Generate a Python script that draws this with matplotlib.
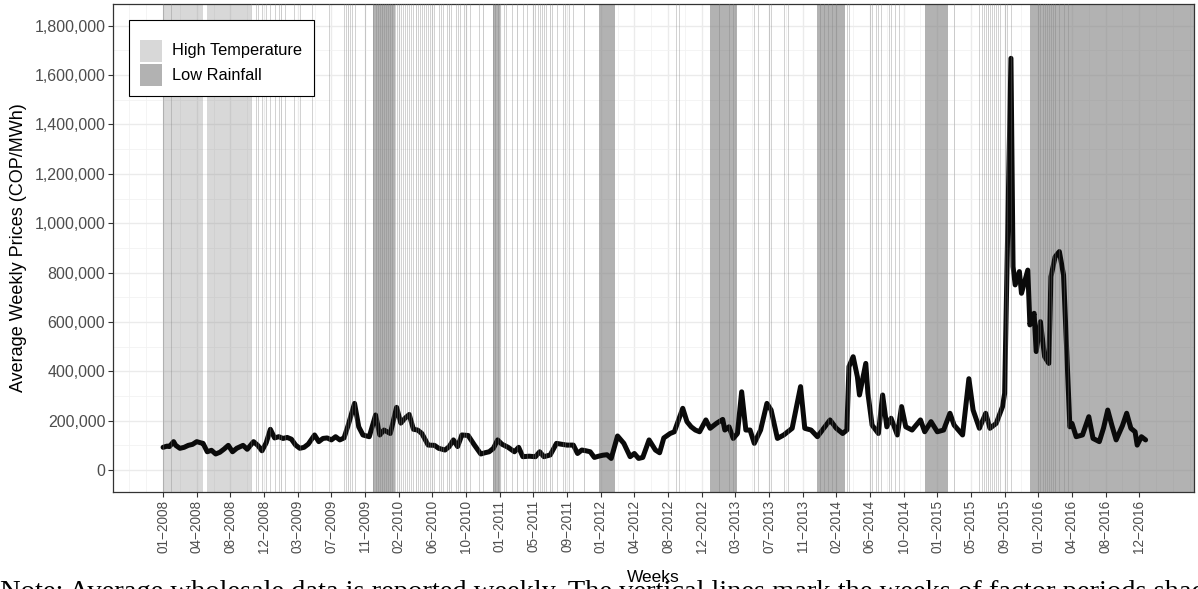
import matplotlib
matplotlib.use("Agg")
import matplotlib.pyplot as plt
from matplotlib.patches import Rectangle
from matplotlib.ticker import FixedLocator, MultipleLocator, FuncFormatter

plt.rcParams['font.family'] = ['Liberation Sans', 'DejaVu Sans']

# ---------------- data (week index from first week of Jan 2008) ----------------
weeks = [0, 2, 3, 5, 6, 8, 10, 12, 14, 16,
         18, 19, 21, 23, 25, 27, 29, 31, 33, 35,
         38, 40, 43, 45, 47, 49, 51, 53, 55, 57,
         59, 61, 63, 65, 67, 69, 72, 74, 76, 78,
         80, 82, 84, 86, 88, 91, 93, 95, 98, 101,
         103, 105, 108, 111, 113, 115, 117, 119, 121, 123,
         126, 129, 131, 134, 136, 138, 140, 142, 145, 148,
         151, 153, 155, 157, 159, 161, 164, 167, 169, 171,
         174, 177, 179, 181, 184, 187, 189, 192, 195, 197,
         199, 201, 203, 205, 207, 209, 211, 213, 216, 219,
         222, 224, 226, 228, 231, 234, 236, 238, 241, 243,
         245, 247, 249, 251, 253, 255, 258, 260, 263, 266,
         267, 269, 271, 273, 275, 277, 279, 281, 284, 287,
         289, 292, 295, 299, 303, 305, 308, 311, 314, 317,
         320, 323, 325, 326, 328, 330, 331, 334, 335, 337,
         340, 342, 344, 346, 349, 351, 353, 356, 360, 362,
         365, 368, 371, 374, 376, 380, 383, 385, 388, 391,
         393, 396, 399, 400, 403, 404, 405, 407, 408, 411,
         412, 414, 415, 417, 419, 421, 422, 424, 426, 428,
         431, 432, 434, 437, 440, 442, 445, 447, 449, 451,
         453, 456, 458, 460, 462, 463, 465, 467]

prices_k = [92, 97, 95, 115, 100, 88, 92, 100, 104, 115,
            110, 108, 74, 80, 65, 72, 85, 100, 74, 88,
            100, 84, 115, 100, 78, 110, 165, 130, 135, 128,
            132, 125, 101, 88, 92, 105, 142, 115, 128, 130,
            122, 135, 122, 130, 182, 270, 175, 142, 135, 223,
            142, 162, 148, 254, 190, 210, 225, 165, 162, 148,
            101, 100, 88, 81, 95, 122, 95, 142, 140, 101,
            65, 70, 74, 88, 122, 105, 92, 74, 92, 54,
            56, 54, 74, 54, 61, 108, 105, 101, 101, 67,
            81, 78, 74, 51, 56, 60, 62, 47, 138, 108,
            54, 67, 47, 51, 122, 81, 70, 130, 148, 155,
            203, 250, 196, 175, 162, 155, 203, 169, 189, 205,
            162, 175, 128, 148, 317, 162, 162, 108, 162, 270,
            243, 128, 142, 169, 338, 169, 162, 135, 169, 203,
            169, 148, 162, 419, 459, 378, 304, 432, 311, 182,
            148, 304, 175, 210, 142, 257, 175, 162, 203, 155,
            196, 155, 162, 230, 182, 142, 370, 243, 169, 230,
            169, 189, 257, 311, 1668, 824, 750, 804, 716, 810,
            588, 635, 480, 601, 459, 432, 783, 864, 885, 790,
            175, 189, 135, 142, 216, 128, 115, 170, 243, 180,
            122, 180, 230, 169, 155, 101, 135, 122]
prices = [v * 1000 for v in prices_k]

# shaded periods (start week, end week)
high_temp_start = [0, 21]
high_temp_end = [19, 42]
low_rain_start = [100, 157, 207, 260, 311, 362, 412]
low_rain_end = [110, 160, 215, 273, 324, 373, 495]

# weeks marked with thin vertical lines
event_weeks = [0, 4, 42, 44, 45, 47, 49, 51, 53, 55, 56, 58, 62, 65, 71, 79,
               86, 87, 88, 89, 90, 91, 96,
               100, 101, 102, 103, 104, 105, 106, 107, 108, 109, 110,
               111, 112, 113, 114, 115, 116, 117, 118, 119, 120, 121, 122, 123,
               124, 125, 126, 127, 128, 129, 131, 132, 133, 135, 136, 137, 139,
               140, 141, 143, 144, 146, 150, 152, 157, 158, 159, 160,
               162, 163, 166, 168, 171, 173, 176, 177, 178, 179, 180, 181, 182,
               184, 185, 187, 190, 191, 193, 195, 200,
               244, 245, 264, 269, 271, 281, 283, 288, 289, 295, 297,
               312, 314, 316, 318, 320, 325, 326, 336, 337, 339, 340, 341,
               345, 346, 348, 350, 376,
               388, 389, 390, 391, 392, 393, 394, 395, 396, 397, 398, 400, 401, 403,
               416, 417, 418, 419, 420, 421, 422, 423, 424, 426, 428, 430]

tick_weeks = list(range(0, 465, 16))
tick_labels = ["01−2008", "04−2008", "08−2008", "12−2008", "03−2009", "07−2009",
               "11−2009", "02−2010", "06−2010", "10−2010", "01−2011", "05−2011",
               "09−2011", "01−2012", "04−2012", "08−2012", "12−2012", "03−2013",
               "07−2013", "11−2013", "02−2014", "06−2014", "10−2014", "01−2015",
               "05−2015", "09−2015", "01−2016", "04−2016", "08−2016", "12−2016"]

legend_labels = ["High Temperature", "Low Rainfall"]

note = ("Note: Average wholesale data is reported weekly. The vertical lines mark "
        "the weeks of factor periods shaded")

# ---------------- figure ----------------
W, H = 1198, 589
fig = plt.figure(figsize=(W / 100, H / 100), dpi=100)
ax = fig.add_axes([113 / W, (H - 492) / H, 1081 / W, 488 / H])

ax.set_xlim(-23.8, 490)
ax.set_ylim(-89000, 1888000)

# grid
ax.set_axisbelow(True)
ax.xaxis.set_major_locator(FixedLocator(tick_weeks))
ax.xaxis.set_minor_locator(FixedLocator([w for w in range(-16, 490, 8) if w not in tick_weeks]))
ax.yaxis.set_major_locator(MultipleLocator(200000))
ax.yaxis.set_minor_locator(FixedLocator([v for v in range(100000, 1900001, 200000)]))
ax.grid(which='major', color='#EBEBEB', lw=1.0)
ax.grid(which='minor', color='#F2F2F2', lw=0.6)

# shaded periods
for s, e in zip(high_temp_start, high_temp_end):
    ax.axvspan(s, e, facecolor='#7F7F7F', alpha=0.3, edgecolor='none', zorder=1)
for s, e in zip(low_rain_start, low_rain_end):
    ax.axvspan(s, e, facecolor='#7F7F7F', alpha=0.6, edgecolor='none', zorder=1)

# price line
ax.plot(weeks, prices, color='#0A0A0A', lw=3.6, zorder=3,
        solid_joinstyle='round', solid_capstyle='round')

# event lines
for w in event_weeks:
    ax.axvline(w, color='#7F7F7F', alpha=0.45, lw=0.55, zorder=4)

# axes styling
for sp in ax.spines.values():
    sp.set_color('#333333')
    sp.set_linewidth(0.9)
ax.tick_params(which='major', length=3.5, width=0.8, color='#333333', pad=2)
ax.tick_params(which='minor', length=0)
ax.set_xticklabels(tick_labels, rotation=90, fontsize=9.8, color='#4D4D4D')
ax.yaxis.set_major_formatter(FuncFormatter(lambda v, p: f"{int(round(v)):,}"))
for lab in ax.get_yticklabels():
    lab.set_fontsize(11.5)
    lab.set_color('#4D4D4D')

# titles
fig.text(19 / W, 1 - 248 / H, 'Average Weekly Prices (COP/MWh)', rotation=90,
         ha='center', va='center', fontsize=13, color='black')
fig.text(653.5 / W, 1 - 577 / H, 'Weeks', ha='center', va='center',
         fontsize=12.5, color='black')

# legend (drawn in figure pixel coordinates)
def px(x, y):
    return x / W, 1 - y / H

fx, fy = px(129, 96)
fig.patches.append(Rectangle((fx, fy), (314 - 129) / W, (96 - 20) / H,
                             transform=fig.transFigure, facecolor='white',
                             edgecolor='black', lw=0.8, zorder=20))
key_alpha = [0.3, 0.6]
key_top = [40, 64]
for lab, a, top in zip(legend_labels, key_alpha, key_top):
    kx, ky = px(140, top + 22)
    fig.patches.append(Rectangle((kx, ky), 22 / W, 22 / H, transform=fig.transFigure,
                                 facecolor='#7F7F7F', alpha=a, edgecolor='none', zorder=21))
    tx, ty = px(172, top + 11)
    fig.text(tx, ty, lab, ha='left', va='center', fontsize=11.8, color='black', zorder=22)

# cut-off note at bottom
fig.text(0.0, 1 - 599 / H, note, fontsize=20.5, family=['Liberation Serif', 'DejaVu Serif'],
         ha='left', va='baseline', color='black')

fig.savefig('out.png', dpi=100)
